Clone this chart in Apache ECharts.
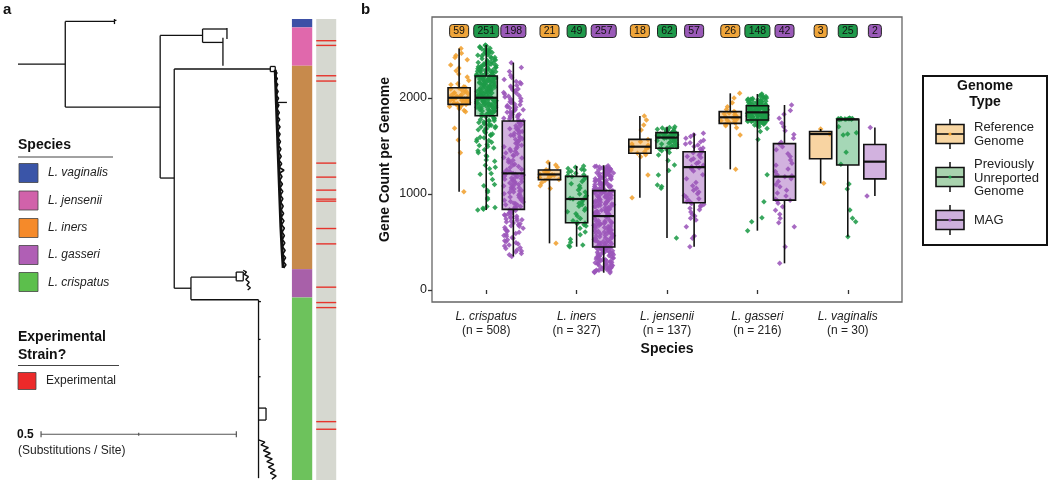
<!DOCTYPE html>
<html><head><meta charset="utf-8">
<script src="https://cdn.jsdelivr.net/npm/echarts@6/dist/echarts.min.js"></script>
<style>html,body{margin:0;padding:0;background:#fff}#c{width:1050px;height:482px}</style>
</head><body><div id="c"></div>
<script>
// ---------------- DATA ----------------
const species = ['L. crispatus','L. iners','L. jensenii','L. gasseri','L. vaginalis'];
const speciesN = [508,327,137,216,30];
const genomeTypes = ['Reference Genome','Previously Unreported Genome','MAG'];
const refCounts = [59,21,18,26,3];
const newCounts = [251,49,62,148,25];
const magCounts = [198,257,57,42,2];
const yTicks = [0,1000,2000];
// box stats [min, Q1, median, Q3, max] per species
const refBox = [[1024,1934,2003,2107,2517],[486,1150,1204,1250,1330],[962,1424,1493,1569,1813],[1257,1736,1799,1858,2049],[1111,1368,1625,1651,1677]];
const newBox = [[833,1816,2003,2229,2552],[451,701,948,1184,1292],[541,1476,1588,1639,1701],[618,1771,1851,1920,2042],[555,1302,1778,1778,1778]];
const magBox = [[350,840,1215,1760,2368],[180,448,770,1035,1300],[451,909,1280,1441,1632],[278,936,1181,1525,1927],[979,1158,1337,1515,1694]];

const ptsRefCrispatus = [1024,1430,1563,1684,1858,1871,1889,1897,1906,1912,1918,1921,1927,1933,1937,1941,1948,1950,1958,1961,1966,1972,1977,1979,1986,1991,1994,1998,2001,2004,2007,2013,2016,2024,2028,2037,2041,2049,2056,2062,2071,2083,2093,2104,2111,2118,2138,2149,2183,2220,2251,2283,2312,2345,2398,2421,2443,2466,2517];
const ptsNewCrispatus = [833,840,852,860,871,946,958,1020,1036,1087,1099,1150,1205,1213,1262,1280,1300,1342,1355,1390,1401,1430,1451,1462,1478,1494,1505,1517,1540,1549,1557,1571,1585,1592,1610,1618,1625,1638,1646,1653,1661,1669,1676,1682,1690,1698,1703,1711,1717,1724,1730,1739,1745,1751,1757,1762,1768,1775,1782,1789,1795,1802,1811,
1819,1822,1830,1833,1841,1844,1846,1853,1857,1859,1866,1868,1871,1879,1880,1887,1890,1891,1898,1903,1905,1908,1913,1916,1920,1925,1927,1929,1934,1938,1940,1944,1946,1951,1953,1957,1960,1961,1966,1968,1972,1973,1977,1979,1980,1983,1985,1986,1988,1990,1991,1993,1994,1995,1997,1998,1999,2000,2000,2001,2002,2002,2003,
2004,2008,2013,2015,2021,2024,2026,2033,2037,2040,2046,2048,2051,2057,2059,2064,2068,2069,2076,2079,2080,2087,2090,2091,2098,2101,2105,2106,2112,2116,2117,2124,2126,2130,2134,2137,2139,2145,2148,2150,2156,2157,2163,2165,2168,2174,2175,2181,2183,2188,2192,2193,2199,2200,2204,2209,2210,2214,2218,2220,2224,2227,2229,
2231,2236,2238,2243,2247,2249,2254,2258,2262,2265,2268,2273,2277,2280,2284,2286,2291,2295,2297,2302,2306,2309,2313,2318,2321,2326,2330,2334,2339,2342,2348,2353,2357,2363,2369,2371,2378,2384,2390,2396,2401,2409,2416,2423,2429,2438,2446,2452,2459,2466,2474,2480,2489,2496,2503,2511,2519,2527,2534,2541,2547,2552];
const ptsMagCrispatus = [350,366,381,397,405,418,433,441,458,470,479,491,503,512,524,538,546,559,567,580,588,601,613,620,631,644,652,663,670,681,690,699,708,716,723,731,739,747,752,760,768,776,783,790,798,806,813,820,828,836,
843,851,864,870,882,887,899,904,917,921,934,938,950,955,967,970,983,987,999,1004,1015,1021,1032,1036,1049,1052,1064,1069,1080,1083,1095,1099,1110,1114,1125,1128,1140,1143,1155,1158,1168,1172,1182,1186,1195,1199,1205,1209,1213,
1222,1233,1250,1259,1277,1286,1302,1309,1327,1334,1352,1358,1375,1381,1398,1404,1420,1427,1443,1449,1465,1471,1487,1492,1508,1513,1529,1534,1549,1555,1569,1575,1589,1594,1608,1613,1627,1632,1645,1650,1663,1667,1680,1684,1697,1710,1722,1736,1747,1757,
1763,1770,1782,1789,1797,1801,1812,1820,1828,1831,1844,1852,1856,1869,1878,1881,1895,1903,1909,1922,1931,1937,1951,1960,1966,1980,1989,1996,2010,2019,2027,2042,2051,2058,2075,2086,2093,2110,2122,2131,2148,2162,2171,2192,2213,2238,2275,2318,2368];
const ptsRefIners = [486,1058,1085,1117,1140,1150,1160,1172,1181,1190,1196,1201,1206,1213,1222,1231,1244,1252,1280,1302,1330];
const ptsNewIners = [451,462,470,498,530,575,603,642,668,680,690,698,705,722,746,770,795,815,832,850,872,890,905,920,938,948,955,968,982,1001,1020,1041,1062,1085,1108,1130,1151,1172,1183,1192,1201,1215,1226,1238,1249,1258,1266,1280,1292];
const ptsMagIners = [180,183,190,196,198,205,207,212,218,219,226,227,234,235,242,246,248,255,256,263,266,271,274,280,283,289,291,298,300,306,308,315,317,323,326,332,334,341,343,349,352,358,360,367,369,375,378,384,386,393,395,401,404,410,412,419,421,427,429,435,436,441,443,444,
446,451,455,459,466,468,474,479,483,487,493,495,502,506,510,514,521,523,529,534,537,542,549,551,556,562,565,570,577,578,584,590,593,597,604,606,612,617,620,625,632,633,639,645,648,652,659,661,667,672,675,680,687,689,694,700,703,707,714,716,722,728,741,758,
776,779,785,788,794,797,803,806,812,815,821,824,830,833,839,842,848,851,857,860,866,869,875,878,884,887,893,896,902,905,911,914,920,923,929,932,938,941,947,950,956,959,965,968,974,977,983,986,991,995,1000,1004,1009,1012,1017,1020,1024,1027,1029,1031,1032,1033,1034,1035,
1038,1043,1046,1050,1055,1059,1062,1066,1071,1074,1078,1083,1086,1090,1095,1098,1102,1107,1110,1114,1119,1122,1126,1131,1134,1138,1143,1146,1150,1155,1158,1162,1167,1170,1174,1179,1182,1186,1191,1194,1198,1203,1206,1210,1215,1218,1222,1227,1230,1234,1239,1242,1246,1251,1254,1258,1263,1266,1270,1274,1278,1282,1286,1290,1295];
const ptsRefJensenii = [962,1198,1389,1410,1425,1440,1458,1475,1488,1496,1508,1520,1545,1568,1667,1720,1771,1813];
const ptsNewJensenii = [541,1059,1078,1094,1198,1245,1302,1350,1406,1432,1450,1462,1470,1474,1478,1482,1490,1497,1505,1512,1520,1528,1534,1541,1549,1556,1562,1568,1573,1578,1582,1586,1590,1593,1596,1599,1602,1605,1608,1611,1614,1617,1620,1623,1626,1629,1632,1635,1638,1641,1645,1649,1653,1657,1661,1665,1670,1675,1681,1688,1694,1701];
const ptsMagJensenii = [451,540,562,660,729,748,770,790,812,835,852,868,880,891,900,908,920,935,950,968,985,1003,1020,1040,1059,1085,1120,1160,1200,1240,1262,1274,1285,1300,1318,1330,1354,1368,1380,1392,1405,1418,1430,1440,1452,1468,1480,1495,1510,1522,1535,1545,1560,1580,1600,1618,1632];
const ptsRefGasseri = [1257,1615,1690,1712,1728,1738,1745,1752,1762,1770,1781,1790,1797,1802,1810,1818,1826,1835,1843,1852,1860,1880,1910,1950,2000,2049];
const ptsNewGasseri = [618,712,753,920,1201,1567,1652,1683,1701,1712,1719,1726,1731,1736,1740,1744,1747,1750,1753,1755,1757,1759,1760,1762,1763,1764,1765,1766,1767,1768,1768,1769,1769,1770,1770,1771,1771,
1773,1776,1778,1781,1783,1786,1788,1790,1793,1795,1797,1800,1802,1804,1806,1808,1811,1813,1815,1817,1819,1821,1823,1825,1827,1829,1831,1833,1835,1837,1839,1841,1843,1845,1847,1849,1851,
1853,1855,1857,1859,1861,1863,1865,1867,1869,1871,1873,1875,1877,1879,1881,1883,1885,1887,1889,1891,1893,1895,1897,1899,1901,1903,1905,1906,1908,1910,1911,1913,1914,1916,1917,1918,1920,
1922,1925,1927,1930,1932,1935,1937,1940,1942,1945,1947,1950,1952,1955,1957,1960,1962,1965,1967,1970,1972,1975,1977,1980,1982,1985,1988,1991,1994,1997,2000,2005,2010,2016,2024,2033,2042];
const ptsMagGasseri = [278,451,660,700,748,790,830,868,905,930,935,945,980,1010,1040,1075,1100,1130,1160,1181,1190,1200,1235,1260,1300,1320,1355,1390,1420,1460,1493,1520,1540,1580,1620,1660,1700,1740,1790,1830,1870,1927];
const ptsRefVaginalis = [1111,1625,1677];
const ptsNewVaginalis = [555,712,747,833,1052,1104,1309,1434,1615,1625,1639,1700,1776,1778,1779,1780,1781,1782,1783,1784,1785,1786,1787,1788,1790];
const ptsMagVaginalis = [979,1694];

// Tree (x: substitutions/site, y: tip rank 0..1000)
const treeBranches = [
 [0,97.7,0.121,97.7],[0.121,5.2,0.121,191],
 [0.121,5.2,0.247,5.2],[0.247,0,0.247,11],[0.247,3,0.252,3],
 [0.121,191,0.364,191],[0.364,35.6,0.364,345],
 [0.364,35.6,0.4725,35.6],[0.4725,21.7,0.4725,50.8],
 [0.4725,21.7,0.535,21.7],[0.535,19.5,0.535,43.4],
 [0.4725,50.8,0.5247,50.8],[0.5247,40.6,0.5247,101.4],
 [0.364,345,0.400,345],[0.400,108.5,0.400,584],
 [0.400,108.5,0.646,108.5],
 [0.646,103,0.6586,103],[0.646,114,0.6586,114],[0.646,103,0.646,114],[0.6586,103,0.6586,114],
 [0.663,181,0.6885,181],
 [0.400,584,0.4428,584],[0.4428,560,0.4428,609],
 [0.4428,560,0.5587,560],
 [0.5587,549,0.5767,549],[0.5587,568,0.5767,568],[0.5587,549,0.5587,568],[0.5767,549,0.5767,568],
 [0.4428,609,0.6158,609],[0.6158,609,0.6158,996],
 [0.6158,613,0.622,613],[0.6158,695,0.621,695],[0.6158,776,0.621,776],
 [0.6158,844,0.635,844],[0.6158,870,0.635,870],[0.635,844,0.635,870]
];
const inersSpine = [[0.6586,110],[0.661,170],[0.664,240],[0.667,310],[0.67,380],[0.673,450],[0.676,500],[0.679,540]];
const inersTips = [[0.6586,112],[0.663,117],[0.658,123],[0.664,129],[0.659,136],[0.665,142],[0.66,150],[0.666,157],[0.661,165],[0.667,172],[0.662,180],[0.668,187],[0.663,195],[0.669,203],[0.664,211],[0.67,218],[0.664,226],[0.671,234],[0.665,242],[0.671,250],[0.666,258],[0.672,266],[0.667,274],[0.673,282],[0.668,290],[0.674,298],[0.668,306],[0.675,314],[0.669,322],[0.681,328],[0.67,334],[0.676,342],[0.67,350],[0.677,358],[0.671,366],[0.678,374],[0.672,382],[0.678,390],[0.673,398],[0.679,406],[0.674,414],[0.68,422],[0.674,430],[0.681,438],[0.675,446],[0.682,454],[0.676,462],[0.682,470],[0.677,478],[0.683,486],[0.677,494],[0.684,502],[0.678,510],[0.685,518],[0.679,526],[0.686,533],[0.68,540]];
const gasseriTips = [[0.5767,545],[0.585,549],[0.579,554],[0.59,559],[0.583,565],[0.592,571],[0.586,577],[0.595,583],[0.588,588]];
const crispatusTips = [[0.6158,913],[0.632,918],[0.622,924],[0.641,930],[0.628,936],[0.646,942],[0.632,948],[0.651,954],[0.637,960],[0.655,966],[0.641,972],[0.658,979],[0.646,985],[0.661,991],[0.65,998]];
const bandNames = ['L. vaginalis','L. jensenii','L. iners','L. gasseri','L. crispatus'];
const bandStart = [0,18.2,101.4,542.6,604];
const bandEnd = [18.2,101.4,542.6,604,1000];
const experimentalRows = [47.1,57.3,123.1,134.6,312.6,343,371.2,390.7,395.1,454.5,487.8,581.7,615.1,626,873.4,889.9];
const scaleBarStart = 0.059, scaleBarLength = 0.5;

// ---------------- STYLE ----------------
const FONT = '"Liberation Sans", Arial, Helvetica, sans-serif';
const ptColors = ['#F0A030','#1E9B48','#9B55B9'];
const boxFills = ['rgba(240,160,48,0.45)','rgba(30,155,72,0.4)','rgba(155,85,185,0.45)'];
const badgeColors = ['#EFA53A','#1F9A4B','#9A5AB8'];
const bandColors = ['#3D50A6','#E068AC','#C78A4C','#A860A9','#6DC25C'];
const legendSwatch = ['#3A55A8','#D162AA','#F58A2A','#B05FB5','#5CBF4C'];
const offsets = [-0.3,0,0.3];
const stripX = [0.7013,0.7533], expX = [0.7635,0.8147];

// ---------------- BUILD ----------------
const ptsByType = [
 [ptsRefCrispatus,ptsRefIners,ptsRefJensenii,ptsRefGasseri,ptsRefVaginalis],
 [ptsNewCrispatus,ptsNewIners,ptsNewJensenii,ptsNewGasseri,ptsNewVaginalis],
 [ptsMagCrispatus,ptsMagIners,ptsMagJensenii,ptsMagGasseri,ptsMagVaginalis]
];
const boxesByType = [refBox,newBox,magBox];
const countsByType = [refCounts,newCounts,magCounts];
// deterministic horizontal jitter (visual position only)
function jit(i,s){ const h = Math.sin((i+1)*12.9898 + (s+1)*78.233) * 43758.5453; return ((h - Math.floor(h)) - 0.5) * 0.22; }

const scatterSeries = ptsByType.map((arrs,t)=>({
 type:'scatter', xAxisIndex:1, yAxisIndex:1, symbol:'diamond', symbolSize:5.5,
 itemStyle:{color:ptColors[t], opacity:0.88}, z:2, silent:true,
 data: arrs.flatMap((vals,s)=> vals.map((v,i)=>[s+1+offsets[t]+jit(i,s*3+t), v]))
}));
const boxData = [];
boxesByType.forEach((b,t)=> b.forEach((st,s)=> boxData.push([s+1+offsets[t], st[0],st[1],st[2],st[3],st[4], t])));
const badgeData = [];
countsByType.forEach((c,t)=> c.forEach((n,s)=> badgeData.push([s+1+offsets[t], 2698, n, t])));

const chart = echarts.init(document.getElementById('c'), null, {renderer:'canvas'});
const axisTextColor = '#222';

const option = {
 animation:false,
 textStyle:{fontFamily:FONT},
 grid:[
  {left:18, top:19, width:332, height:461, show:false},
  {left:432, top:17, width:470, height:285, show:true, borderColor:'#666', borderWidth:1.3, backgroundColor:'#fff'}
 ],
 xAxis:[
  {gridIndex:0, type:'value', min:0, max:0.85, show:false},
  {gridIndex:1, type:'value', min:0.4, max:5.6, splitLine:{show:false}, axisLine:{show:false},
   axisTick:{show:true, customValues:[1,2,3,4,5], length:4, lineStyle:{color:'#333', width:1.3}},
   axisLabel:{customValues:[1,2,3,4,5], margin:8, color:axisTextColor,
     formatter:(v)=>{const i=Math.round(v)-1; return '{s|'+species[i]+'}\n{n|(n = '+speciesN[i]+')}';},
     rich:{s:{fontStyle:'italic', fontSize:12, lineHeight:14, fontFamily:FONT, color:axisTextColor}, n:{fontSize:12, lineHeight:14, fontFamily:FONT, color:axisTextColor}}},
   name:'Species', nameLocation:'middle', nameGap:39, nameTextStyle:{fontWeight:'bold', fontSize:14, color:'#111', fontFamily:FONT}}
 ],
 yAxis:[
  {gridIndex:0, type:'value', min:0, max:1000, inverse:true, show:false},
  {gridIndex:1, type:'value', min:-125, max:2844, splitLine:{show:false}, axisLine:{show:false},
   axisTick:{show:true, customValues:yTicks, length:4, lineStyle:{color:'#333', width:1.3}},
   axisLabel:{customValues:yTicks, margin:5, fontSize:12.5, color:axisTextColor, formatter:(v)=>String(Math.round(v))},
   name:'Gene Count per Genome', nameLocation:'middle', nameGap:40, nameRotate:90,
   nameTextStyle:{fontWeight:'bold', fontSize:14, color:'#111', fontFamily:FONT}}
 ],
 series:[
  {type:'custom', xAxisIndex:0, yAxisIndex:0, data:treeBranches, clip:false, silent:true,
   renderItem:(p,api)=>{const a=api.coord([api.value(0),api.value(1)]), b=api.coord([api.value(2),api.value(3)]);
     return {type:'line', shape:{x1:a[0],y1:a[1],x2:b[0],y2:b[1]}, style:{stroke:'#111', lineWidth:1.3}};}},
  {type:'line', xAxisIndex:0, yAxisIndex:0, data:inersSpine, symbol:'none', silent:true, lineStyle:{color:'#111', width:3}},
  {type:'line', xAxisIndex:0, yAxisIndex:0, data:inersTips, symbol:'none', silent:true, lineStyle:{color:'#111', width:1.6}},
  {type:'line', xAxisIndex:0, yAxisIndex:0, data:gasseriTips, symbol:'none', silent:true, lineStyle:{color:'#111', width:1.4}},
  {type:'line', xAxisIndex:0, yAxisIndex:0, data:crispatusTips, symbol:'none', silent:true, lineStyle:{color:'#111', width:1.4}},
  {type:'custom', xAxisIndex:0, yAxisIndex:0, silent:true,
   data: bandNames.map((n,i)=>[bandStart[i], bandEnd[i], i]),
   renderItem:(p,api)=>{const a=api.coord([stripX[0],api.value(0)]), b=api.coord([stripX[1],api.value(1)]);
     return {type:'rect', shape:{x:a[0],y:a[1],width:b[0]-a[0],height:b[1]-a[1]}, style:{fill:bandColors[api.value(2)]}};}},
  {type:'custom', xAxisIndex:0, yAxisIndex:0, silent:true, data:[[0,1000]],
   renderItem:(p,api)=>{const a=api.coord([expX[0],api.value(0)]), b=api.coord([expX[1],api.value(1)]);
     return {type:'rect', shape:{x:a[0],y:a[1],width:b[0]-a[0],height:b[1]-a[1]}, style:{fill:'#D6D8D0'}};}},
  {type:'custom', xAxisIndex:0, yAxisIndex:0, silent:true, data:experimentalRows.map(r=>[r]), z:3,
   renderItem:(p,api)=>{const a=api.coord([expX[0],api.value(0)]), b=api.coord([expX[1],api.value(0)]);
     return {type:'line', shape:{x1:a[0],y1:a[1],x2:b[0],y2:b[1]}, style:{stroke:'#E6342C', lineWidth:1.4}};}},
  {type:'custom', xAxisIndex:0, yAxisIndex:0, silent:true, clip:false, data:[[scaleBarStart, scaleBarLength, 900.8]],
   renderItem:(p,api)=>{const s=api.value(0), L=api.value(1), y=api.value(2);
     const a=api.coord([s,y]), b=api.coord([s+L,y]), m=api.coord([s+L/2,y]);
     const st={stroke:'#555', lineWidth:1.2};
     return {type:'group', children:[
       {type:'line', shape:{x1:a[0],y1:a[1],x2:b[0],y2:b[1]}, style:st},
       {type:'line', shape:{x1:a[0],y1:a[1]-3,x2:a[0],y2:a[1]+3}, style:st},
       {type:'line', shape:{x1:b[0],y1:b[1]-3,x2:b[0],y2:b[1]+3}, style:st},
       {type:'line', shape:{x1:m[0],y1:m[1]-1.5,x2:m[0],y2:m[1]+1.5}, style:st}]};}},
  ...scatterSeries,
  {type:'custom', xAxisIndex:1, yAxisIndex:1, data:boxData, z:4, silent:true,
   encode:{x:0, y:[1,2,3,4,5]},
   renderItem:(p,api)=>{const x=api.value(0), t=api.value(6);
     const pMin=api.coord([x,api.value(1)]), pQ1=api.coord([x,api.value(2)]), pMed=api.coord([x,api.value(3)]), pQ3=api.coord([x,api.value(4)]), pMax=api.coord([x,api.value(5)]);
     const w=api.size([0.245,0])[0];
     const ln={stroke:'#111', lineWidth:1.6};
     return {type:'group', children:[
       {type:'line', shape:{x1:pMax[0],y1:pMax[1],x2:pQ3[0],y2:pQ3[1]}, style:ln},
       {type:'line', shape:{x1:pQ1[0],y1:pQ1[1],x2:pMin[0],y2:pMin[1]}, style:ln},
       {type:'rect', shape:{x:pQ3[0]-w/2,y:pQ3[1],width:w,height:pQ1[1]-pQ3[1]}, style:{fill:boxFills[t], stroke:'#111', lineWidth:1.6}},
       {type:'line', shape:{x1:pMed[0]-w/2,y1:pMed[1],x2:pMed[0]+w/2,y2:pMed[1]}, style:{stroke:'#111', lineWidth:2.2}}]};}},
  {type:'custom', xAxisIndex:1, yAxisIndex:1, data:badgeData, z:5, silent:true,
   renderItem:(p,api)=>{const c=api.coord([api.value(0),api.value(1)]), n=String(api.value(2)), t=api.value(3);
     const w=6*n.length+7, h=13;
     return {type:'group', children:[
       {type:'rect', shape:{x:c[0]-w/2,y:c[1]-h/2,width:w,height:h,r:3}, style:{fill:badgeColors[t], stroke:'#222', lineWidth:1}},
       {type:'text', style:{text:n, x:c[0], y:c[1]+0.5, align:'center', verticalAlign:'middle', font:'10.5px '+FONT, fill:'#111'}}]};}}
 ],
 graphic:[
  {type:'text', left:3, top:2, style:{text:'a', font:'bold 15px '+FONT, fill:'#111'}},
  {type:'text', left:361, top:2, style:{text:'b', font:'bold 15px '+FONT, fill:'#111'}},
  {type:'text', x:18, y:145, style:{text:'Species', font:'bold 14px '+FONT, fill:'#111', verticalAlign:'middle'}},
  {type:'line', shape:{x1:18,y1:157,x2:113,y2:157}, style:{stroke:'#444', lineWidth:1}},
  ...bandNames.map((n,i)=>({type:'rect', shape:{x:19,y:[163.5,191,218.5,245.5,272.5][i],width:19,height:19}, style:{fill:legendSwatch[i], stroke:'#444', lineWidth:0.8}})),
  ...bandNames.map((n,i)=>({type:'text', x:48, y:[173,200.7,228,255,282.3][i], style:{text:n, font:'italic 12px '+FONT, fill:'#222', verticalAlign:'middle'}})),
  {type:'text', x:18, y:337, style:{text:'Experimental', font:'bold 14px '+FONT, fill:'#111', verticalAlign:'middle'}},
  {type:'text', x:18, y:355, style:{text:'Strain?', font:'bold 14px '+FONT, fill:'#111', verticalAlign:'middle'}},
  {type:'line', shape:{x1:18,y1:365.5,x2:119,y2:365.5}, style:{stroke:'#444', lineWidth:1}},
  {type:'rect', shape:{x:18,y:372.5,width:18,height:17}, style:{fill:'#EC2A2A', stroke:'#444', lineWidth:0.8}},
  {type:'text', x:46, y:381, style:{text:'Experimental', font:'12px '+FONT, fill:'#222', verticalAlign:'middle'}},
  {type:'text', x:17, y:435, style:{text:'0.5', font:'bold 12px '+FONT, fill:'#111', verticalAlign:'middle'}},
  {type:'text', x:18, y:451, style:{text:'(Substitutions / Site)', font:'12px '+FONT, fill:'#222', verticalAlign:'middle'}},
  {type:'rect', shape:{x:923,y:76,width:124,height:169}, style:{fill:'#fff', stroke:'#111', lineWidth:2}},
  {type:'text', x:985, y:86, style:{text:'Genome', font:'bold 14px '+FONT, fill:'#111', align:'center', verticalAlign:'middle'}},
  {type:'text', x:985, y:102, style:{text:'Type', font:'bold 14px '+FONT, fill:'#111', align:'center', verticalAlign:'middle'}},
  ...[134,177,220].flatMap((cy,t)=>[
   {type:'line', shape:{x1:950,y1:cy-15,x2:950,y2:cy+15}, style:{stroke:'#111', lineWidth:1.5}},
   {type:'rect', shape:{x:936,y:cy-9.5,width:28,height:19}, style:{fill:['#F8D6A2','#A9D3AE','#CDB1DC'][t], stroke:'#111', lineWidth:1.6}},
   {type:'line', shape:{x1:936,y1:cy,x2:964,y2:cy}, style:{stroke:'#111', lineWidth:1.6}},
   {type:'circle', shape:{cx:950,cy:cy,r:1.6}, style:{fill:ptColors[t]}}
  ]),
  {type:'text', x:974, y:127.5, style:{text:'Reference', font:'13px '+FONT, fill:'#222', verticalAlign:'middle'}},
  {type:'text', x:974, y:141, style:{text:'Genome', font:'13px '+FONT, fill:'#222', verticalAlign:'middle'}},
  {type:'text', x:974, y:164.5, style:{text:'Previously', font:'13px '+FONT, fill:'#222', verticalAlign:'middle'}},
  {type:'text', x:974, y:178, style:{text:'Unreported', font:'13px '+FONT, fill:'#222', verticalAlign:'middle'}},
  {type:'text', x:974, y:191.5, style:{text:'Genome', font:'13px '+FONT, fill:'#222', verticalAlign:'middle'}},
  {type:'text', x:974, y:220, style:{text:'MAG', font:'13px '+FONT, fill:'#222', verticalAlign:'middle'}}
 ]
};
chart.setOption(option);
</script></body></html>
